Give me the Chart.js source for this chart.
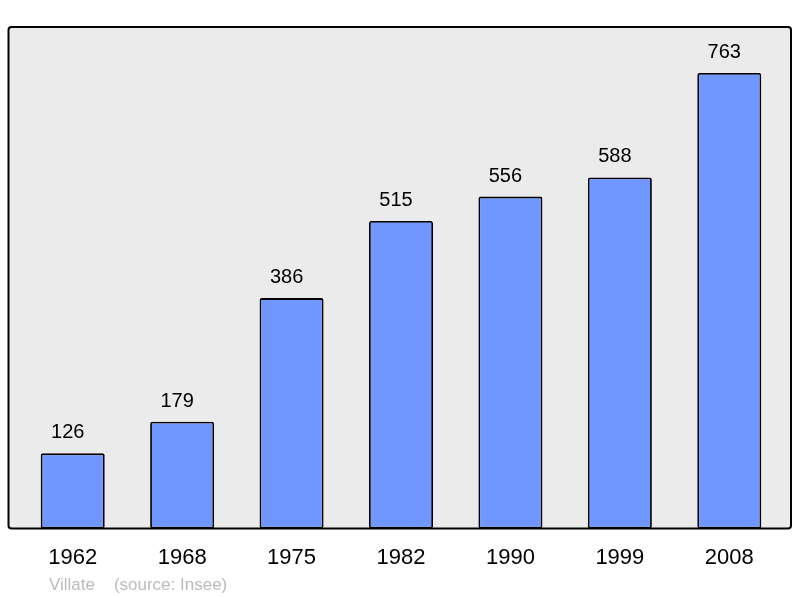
<!DOCTYPE html>
<html>
<head>
<meta charset="utf-8">
<script src="https://cdn.jsdelivr.net/npm/chart.js@4"></script>
<style>
  body { margin: 0; background: #fff; }
</style>
</head>
<body>
<canvas id="graficoPopulation" width="800" height="598"></canvas>
<script>
var years = ["1962", "1968", "1975", "1982", "1990", "1999", "2008"];
var population = [126, 179, 386, 515, 556, 588, 763];
var footerText = "Villate    (source: Insee)";

// grey frame behind the bars
var framePlugin = {
    id: 'frame',
    beforeDraw: function (chart) {
        var c = chart.ctx, a = chart.chartArea;
        var x0 = a.left - 9.5, x1 = a.right + 7, y0 = a.top, y1 = a.bottom;
        c.save();
        c.beginPath();
        c.roundRect(x0, y0, x1 - x0, y1 - y0, 3);
        c.fillStyle = '#ebebeb';
        c.fill();
        c.lineWidth = 2;
        c.strokeStyle = '#000';
        c.stroke();
        c.restore();
    },
    afterDatasetsDraw: function (chart) {
        var c = chart.ctx;
        var meta = chart.getDatasetMeta(0);
        c.save();
        c.font = '20px "Liberation Sans", Arial, sans-serif';
        c.fillStyle = '#000';
        c.textAlign = 'center';
        c.textBaseline = 'alphabetic';
        meta.data.forEach(function (bar, i) {
            c.fillText(population[i], bar.x - 5, bar.y - 15);
        });
        c.font = '17px "Liberation Sans", Arial, sans-serif';
        c.fillStyle = '#bbbbbb';
        c.textAlign = 'left';
        c.fillText(footerText, 49, 590);
        c.restore();
    }
};

var ctx = document.getElementById("graficoPopulation");

var myChart = new Chart(ctx, {
    type: 'bar',
    data: {
        labels: years,
        datasets: [{
            data: population,
            backgroundColor: '#7097ff',
            borderColor: '#000',
            borderWidth: 1.8,
            borderRadius: 2,
            borderSkipped: false,
            barPercentage: 0.585,
            categoryPercentage: 1
        }]
    },
    options: {
        responsive: false,
        animation: false,
        devicePixelRatio: 1,
        layout: {
            padding: { left: 18, right: 16, top: 27, bottom: 11 }
        },
        plugins: {
            legend: { display: false },
            tooltip: { enabled: false }
        },
        scales: {
            x: {
                grid: { display: false, drawTicks: false },
                border: { display: false },
                ticks: {
                    padding: 16,
                    color: '#000',
                    font: { family: '"Liberation Sans", Arial, sans-serif', size: 22 }
                }
            },
            y: {
                display: false,
                min: 0,
                max: 840
            }
        }
    },
    plugins: [framePlugin]
});
</script>
</body>
</html>
